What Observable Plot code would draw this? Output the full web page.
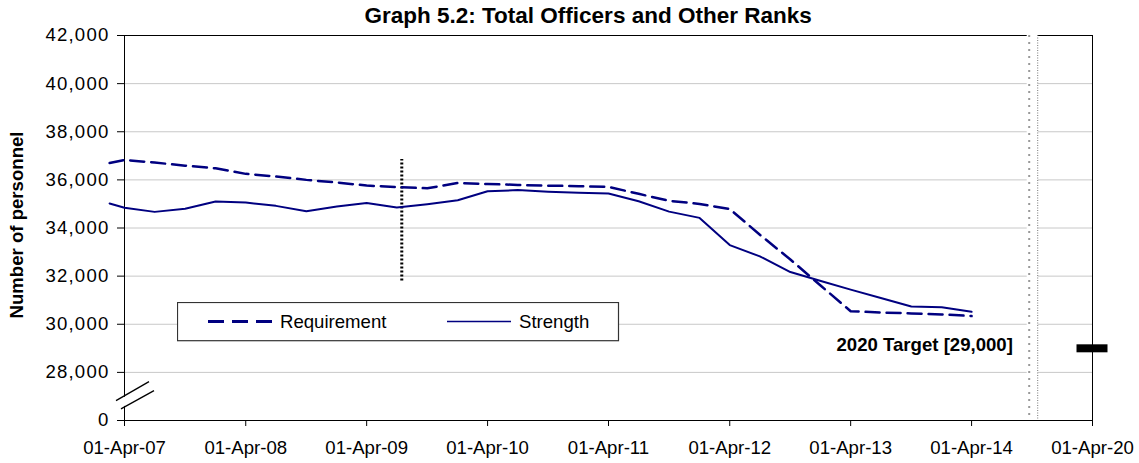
<!DOCTYPE html>
<html><head><meta charset="utf-8">
<script src="https://cdn.jsdelivr.net/npm/d3@7"></script>
<script src="https://cdn.jsdelivr.net/npm/@observablehq/plot@0.6"></script>
<style>
body{margin:0;background:#fff;}
#chart{position:relative;width:1139px;height:463px;}
#legend{position:absolute;left:177px;top:302px;}
</style></head><body><div id="chart"></div>
<script>
// ---- data ----
const dates = ["2007-02-15","2007-04-01","2007-07-01","2007-10-01","2008-01-01","2008-04-01","2008-07-01","2008-10-01",
  "2009-01-01","2009-04-01","2009-07-01","2009-10-01","2010-01-01","2010-04-01","2010-07-01","2010-10-01",
  "2011-01-01","2011-04-01","2011-07-01","2011-10-01","2012-01-01","2012-04-01","2012-07-01","2012-10-01",
  "2013-01-01","2013-04-01","2013-07-01","2013-10-01","2014-01-01","2014-04-01"];
const requirement = [36700,36830,36720,36590,36480,36250,36140,36000,35890,35765,35700,35650,35870,35830,35790,35760,
  35740,35710,35420,35130,35000,34790,33720,32690,31600,30540,30490,30450,30410,30340];
const strength = [35020,34840,34670,34800,35100,35060,34920,34700,34890,35040,34850,34990,35150,35530,35575,35510,
  35470,35430,35110,34680,34420,33290,32820,32170,31800,31440,31090,30740,30710,30520];
const seriesNames = ["Requirement","Strength"];
const xTickDates = ["2007-04-01","2008-04-01","2009-04-01","2010-04-01","2011-04-01","2012-04-01","2013-04-01","2014-04-01","2015-04-01"];
const xTickLabels = ["01-Apr-07","01-Apr-08","01-Apr-09","01-Apr-10","01-Apr-11","01-Apr-12","01-Apr-13","01-Apr-14","01-Apr-20"];
const yTicks = [26000,28000,30000,32000,34000,36000,38000,40000,42000];
const yTickLabels = ["0","28,000","30,000","32,000","34,000","36,000","38,000","40,000","42,000"];
const targetDate = "2015-04-01";
const targetValue = 29000;
const targetLabel = "2020 Target [29,000]";
const xBreakDate = "2014-10-01";
const yBreakValue = 27000;
const markerDate = "2009-07-16";
const markerRange = [31800, 36850];
const title = "Graph 5.2: Total Officers and Other Ranks";
const yLabel = "Number of personnel";

// ---- build ----
const parse = d3.utcParse("%Y-%m-%d");
const rows = dates.map((d, i) => ({date: parse(d), requirement: requirement[i], strength: strength[i]}));
const navy = "#000080";

function yAxisBreak(index, scales) {
  const x0 = scales.x(parse(xTickDates[0])), y0 = scales.y(yBreakValue);
  const g = d3.create("svg:g").attr("fill", "none");
  g.append("path").attr("d", `M${x0-5.5},${y0+8.8}L${x0+27.5},${y0-9.8}`).attr("stroke", "white").attr("stroke-width", 8);
  g.append("path").attr("d", `M${x0-8},${y0+4.7}L${x0+25},${y0-14.3}`).attr("stroke", "black").attr("stroke-width", 1.3);
  g.append("path").attr("d", `M${x0-3},${y0+13}L${x0+30},${y0-5.3}`).attr("stroke", "black").attr("stroke-width", 1.3);
  return g.node();
}

const plot = Plot.plot({
  width: 1139, height: 463,
  marginLeft: 124, marginRight: 47, marginTop: 35, marginBottom: 43,
  style: {fontFamily: "'Liberation Sans', Arial, sans-serif", fontSize: "18.6px", color: "black", background: "white", overflow: "visible"},
  x: {type: "utc", domain: [parse(xTickDates[0]), parse(xTickDates[xTickDates.length - 1])]},
  y: {domain: [yTicks[0], yTicks[yTicks.length - 1]]},
  marks: [
    Plot.gridY(yTicks.slice(1, -1), {stroke: "#c8c8c8", strokeOpacity: 1}),
    Plot.frame({stroke: "black"}),
    Plot.axisY({ticks: yTicks, tickFormat: d => yTickLabels[yTicks.indexOf(d)], tickSize: 7, tickPadding: 8, label: null}),
    Plot.axisX({ticks: xTickDates.map(parse), tickFormat: (d, i) => xTickLabels[i], tickSize: 6, tickPadding: 14, label: null}),
    yAxisBreak,
    Plot.ruleX([xBreakDate], {x: d => parse(d), stroke: "white", strokeWidth: 11, insetBottom: 1}),
    Plot.ruleX([xBreakDate], {x: d => parse(d), dx: -3, stroke: "#999", strokeWidth: 2, strokeDasharray: "2,5", insetBottom: 1}),
    Plot.ruleX([xBreakDate], {x: d => parse(d), dx: 5.5, stroke: "#777", strokeWidth: 1, strokeDasharray: "1,1.5", insetBottom: 1}),
    Plot.ruleX([markerDate], {x: d => parse(d), y1: markerRange[0], y2: markerRange[1], stroke: "black", strokeWidth: 3, strokeDasharray: "2,2"}),
    Plot.line(rows, {x: "date", y: "requirement", stroke: navy, strokeWidth: 2.5, strokeDasharray: "14,7"}),
    Plot.line(rows, {x: "date", y: "strength", stroke: navy, strokeWidth: 2}),
    Plot.ruleY([targetValue], {x1: () => parse(targetDate), x2: () => parse(targetDate), y: d => d, insetLeft: -15.5, insetRight: -15.5, stroke: "black", strokeWidth: 8}),
    Plot.text([title], {frameAnchor: "top-left", textAnchor: "start", dx: 240, dy: -19.5, fontWeight: "bold", fontSize: 22.5, lineAnchor: "middle"}),
    Plot.text([yLabel], {frameAnchor: "left", textAnchor: "middle", dx: -107.5, dy: -3, rotate: -90, fontWeight: "bold", fontSize: 18.6, lineAnchor: "middle"}),
    Plot.text([targetLabel], {x: () => parse(targetDate), y: () => targetValue, dx: -79.6, dy: -3.2, textAnchor: "end", fontWeight: "bold", fontSize: 18.6, lineAnchor: "middle"})
  ]
});

// the reference's value labels are slightly wider-set
plot.querySelectorAll('g[aria-label="y-axis tick label"]').forEach(g => g.style.letterSpacing = "1.2px");

const chart = document.getElementById("chart");
chart.appendChild(plot);

// ---- legend (inside plot area) ----
const lg = d3.select(chart).append("svg").attr("id", "legend").attr("width", 443).attr("height", 40)
  .style("font-family", "'Liberation Sans', Arial, sans-serif").style("font-size", "18.6px");
lg.append("rect").attr("x", 0.5).attr("y", 0.5).attr("width", 441).attr("height", 38.2)
  .attr("fill", "white").attr("stroke", "#333").attr("stroke-width", 1.2);
const legendItems = [
  {name: seriesNames[0], x: 31, dash: "16,8", w: 3},
  {name: seriesNames[1], x: 270, dash: null, w: 1.6}
];
for (const it of legendItems) {
  const l = lg.append("line").attr("x1", it.x).attr("x2", it.x + 64).attr("y1", 19.5).attr("y2", 19.5)
    .attr("stroke", navy).attr("stroke-width", it.w);
  if (it.dash) l.attr("stroke-dasharray", it.dash);
  lg.append("text").attr("x", it.x + 72).attr("y", 19.5).attr("dy", "0.35em").attr("fill", "black").text(it.name);
}
</script></body></html>
